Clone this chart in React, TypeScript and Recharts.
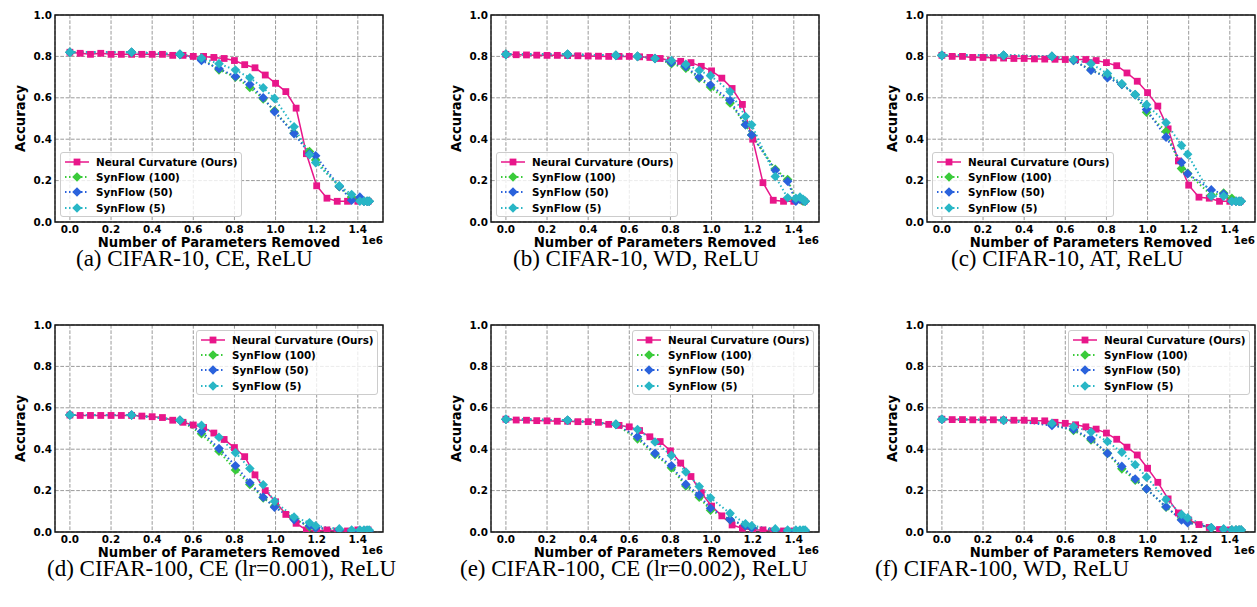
import React from 'react';
import { CartesianGrid, Label, Legend, Line, LineChart, ReferenceArea, XAxis, YAxis } from 'recharts';

// x positions, in units of 1e6 parameters removed
const ncX = [0, 0.05, 0.1, 0.15, 0.2, 0.25, 0.3, 0.35, 0.4, 0.45, 0.5, 0.55, 0.6, 0.65, 0.7, 0.75, 0.8, 0.85, 0.9, 0.95, 1.0, 1.05, 1.1, 1.15, 1.2, 1.25, 1.3, 1.35, 1.4, 1.45];
const sfX = [0, 0.3, 0.535, 0.64, 0.725, 0.805, 0.875, 0.94, 0.995, 1.09, 1.165, 1.195, 1.31, 1.37, 1.41, 1.43, 1.445, 1.455];

// (a) CIFAR-10, CE
const ncA = [0.82, 0.815, 0.81, 0.815, 0.81, 0.81, 0.81, 0.81, 0.81, 0.81, 0.805, 0.805, 0.8, 0.8, 0.795, 0.79, 0.78, 0.76, 0.745, 0.71, 0.67, 0.63, 0.55, 0.33, 0.175, 0.115, 0.1, 0.1, 0.1, 0.1];
const s100A = [0.82, 0.82, 0.81, 0.79, 0.735, 0.7, 0.65, 0.595, 0.537, 0.43, 0.34, 0.3, 0.17, 0.12, 0.11, 0.1, 0.1, 0.1];
const s50A = [0.82, 0.82, 0.81, 0.78, 0.74, 0.703, 0.664, 0.6, 0.533, 0.427, 0.33, 0.32, 0.172, 0.105, 0.12, 0.1, 0.1, 0.1];
const s5A = [0.82, 0.82, 0.81, 0.792, 0.765, 0.734, 0.697, 0.648, 0.597, 0.46, 0.325, 0.287, 0.175, 0.133, 0.1, 0.1, 0.1, 0.1];

// (b) CIFAR-10, WD
const ncB = [0.81, 0.808, 0.807, 0.806, 0.805, 0.805, 0.804, 0.803, 0.802, 0.801, 0.8, 0.8, 0.8, 0.798, 0.795, 0.79, 0.78, 0.776, 0.77, 0.752, 0.73, 0.695, 0.645, 0.568, 0.4, 0.19, 0.105, 0.1, 0.1, 0.1];
const s100B = [0.81, 0.81, 0.805, 0.8, 0.79, 0.765, 0.743, 0.695, 0.652, 0.575, 0.47, 0.42, 0.255, 0.205, 0.11, 0.11, 0.1, 0.1];
const s50B = [0.81, 0.81, 0.805, 0.8, 0.79, 0.77, 0.75, 0.7, 0.662, 0.587, 0.47, 0.42, 0.25, 0.197, 0.1, 0.11, 0.105, 0.1];
const s5B = [0.81, 0.81, 0.805, 0.8, 0.79, 0.78, 0.762, 0.732, 0.707, 0.63, 0.51, 0.47, 0.22, 0.117, 0.115, 0.12, 0.11, 0.1];

// (c) CIFAR-10, AT
const ncC = [0.805, 0.8, 0.8, 0.795, 0.795, 0.793, 0.792, 0.79, 0.79, 0.788, 0.787, 0.786, 0.785, 0.785, 0.785, 0.78, 0.77, 0.755, 0.72, 0.68, 0.625, 0.56, 0.45, 0.295, 0.178, 0.12, 0.115, 0.1, 0.1, 0.1];
const s100C = [0.805, 0.805, 0.8, 0.78, 0.735, 0.7, 0.665, 0.615, 0.53, 0.437, 0.258, 0.235, 0.13, 0.14, 0.115, 0.1, 0.1, 0.1];
const s50C = [0.805, 0.805, 0.8, 0.78, 0.733, 0.697, 0.665, 0.615, 0.543, 0.41, 0.288, 0.233, 0.155, 0.135, 0.1, 0.1, 0.1, 0.1];
const s5C = [0.805, 0.805, 0.8, 0.785, 0.765, 0.717, 0.668, 0.616, 0.567, 0.48, 0.37, 0.327, 0.125, 0.125, 0.1, 0.1, 0.1, 0.1];

// (d) CIFAR-100, CE (lr=0.001)
const ncD = [0.565, 0.563, 0.563, 0.563, 0.563, 0.563, 0.563, 0.56, 0.557, 0.553, 0.54, 0.53, 0.517, 0.505, 0.478, 0.447, 0.408, 0.364, 0.276, 0.2, 0.146, 0.085, 0.042, 0.01, 0.005, 0.01, 0.005, 0.005, 0.01, 0.01];
const s100D = [0.565, 0.565, 0.54, 0.475, 0.39, 0.3, 0.23, 0.165, 0.125, 0.065, 0.025, 0.02, 0.01, 0.005, 0.005, 0.005, 0.005, 0.005];
const s50D = [0.565, 0.565, 0.54, 0.485, 0.403, 0.32, 0.238, 0.168, 0.12, 0.06, 0.03, 0.02, 0.01, 0.005, 0.005, 0.005, 0.005, 0.005];
const s5D = [0.565, 0.565, 0.54, 0.515, 0.458, 0.383, 0.307, 0.228, 0.148, 0.072, 0.045, 0.03, 0.015, 0.01, 0.01, 0.01, 0.01, 0.01];

// (e) CIFAR-100, CE (lr=0.002)
const ncE = [0.545, 0.541, 0.54, 0.538, 0.537, 0.535, 0.535, 0.533, 0.533, 0.53, 0.52, 0.515, 0.508, 0.49, 0.46, 0.437, 0.392, 0.333, 0.268, 0.19, 0.125, 0.078, 0.034, 0.018, 0.01, 0.01, 0.005, 0.005, 0.005, 0.005];
const s100E = [0.545, 0.54, 0.52, 0.45, 0.375, 0.31, 0.222, 0.168, 0.105, 0.06, 0.03, 0.02, 0.01, 0.005, 0.005, 0.005, 0.005, 0.005];
const s50E = [0.545, 0.54, 0.52, 0.46, 0.38, 0.32, 0.23, 0.178, 0.115, 0.06, 0.03, 0.02, 0.01, 0.005, 0.005, 0.005, 0.005, 0.005];
const s5E = [0.545, 0.54, 0.52, 0.495, 0.435, 0.37, 0.29, 0.22, 0.165, 0.09, 0.04, 0.03, 0.015, 0.01, 0.01, 0.01, 0.01, 0.01];

// (f) CIFAR-100, WD
const ncF = [0.545, 0.543, 0.543, 0.542, 0.542, 0.542, 0.541, 0.54, 0.54, 0.538, 0.537, 0.53, 0.525, 0.518, 0.508, 0.497, 0.478, 0.448, 0.41, 0.372, 0.308, 0.24, 0.16, 0.092, 0.058, 0.036, 0.022, 0.012, 0.01, 0.005];
const s100F = [0.545, 0.54, 0.52, 0.49, 0.445, 0.38, 0.305, 0.25, 0.208, 0.12, 0.062, 0.048, 0.02, 0.012, 0.01, 0.01, 0.01, 0.01];
const s50F = [0.545, 0.54, 0.515, 0.495, 0.45, 0.38, 0.317, 0.256, 0.208, 0.122, 0.058, 0.045, 0.02, 0.012, 0.01, 0.01, 0.01, 0.01];
const s5F = [0.545, 0.54, 0.525, 0.51, 0.483, 0.437, 0.385, 0.325, 0.265, 0.157, 0.085, 0.068, 0.02, 0.015, 0.01, 0.01, 0.01, 0.01];

const xTicks = [0, 0.2, 0.4, 0.6, 0.8, 1.0, 1.2, 1.4];
const yTicks = [0, 0.2, 0.4, 0.6, 0.8, 1.0];

const FONT = '"DejaVu Sans", sans-serif';
const NC_COLOR = '#e8168a';
const S100_COLOR = '#3acb3a';
const S50_COLOR = '#2a62dc';
const S5_COLOR = '#28b6c6';

const seriesInfo = [
  { name: 'Neural Curvature (Ours)', color: NC_COLOR, square: true },
  { name: 'SynFlow (100)', color: S100_COLOR, square: false },
  { name: 'SynFlow (50)', color: S50_COLOR, square: false },
  { name: 'SynFlow (5)', color: S5_COLOR, square: false },
];

const PW = 328; // plot width
const PH = 207; // plot height
const ML = 55; // y axis width
const MT = 15;

const toRows = (xs: number[], ys: number[]) => xs.map((x, i) => ({ x, y: ys[i] }));

const squareDot = (props: any) => {
  const { cx, cy, key } = props;
  if (cx == null || cy == null) return null;
  return <rect key={key} x={cx - 3.4} y={cy - 3.4} width={6.8} height={6.8} fill={NC_COLOR} />;
};

const diamondDot = (color: string) => (props: any) => {
  const { cx, cy, key } = props;
  if (cx == null || cy == null) return null;
  const r = 4.8;
  return (
    <polygon
      key={key}
      points={`${cx},${cy - r} ${cx + r},${cy} ${cx},${cy + r} ${cx - r},${cy}`}
      fill={color}
    />
  );
};

const LegendBox = () => (
  <div
    style={{
      boxSizing: 'border-box',
      width: 182,
      height: 65,
      background: 'rgba(255,255,255,0.8)',
      border: '1px solid #cccccc',
      borderRadius: 3,
      padding: '1px 0 0 4px',
      fontFamily: FONT,
      fontWeight: 'bold',
      fontSize: 10.4,
      color: '#000',
    }}
  >
    {seriesInfo.map((s) => (
      <div key={s.name} style={{ display: 'flex', alignItems: 'center', height: 15.4 }}>
        <svg width={24} height={12} style={{ marginRight: 7 }}>
          <line
            x1={0}
            y1={6}
            x2={24}
            y2={6}
            stroke={s.color}
            strokeWidth={s.square ? 1.5 : 2}
            strokeDasharray={s.square ? undefined : '1.5 2.5'}
          />
          {s.square ? (
            <rect x={8.6} y={2.6} width={6.8} height={6.8} fill={s.color} />
          ) : (
            <polygon points="12,1.2 16.8,6 12,10.8 7.2,6" fill={s.color} />
          )}
        </svg>
        <span style={{ whiteSpace: 'nowrap' }}>{s.name}</span>
      </div>
    ))}
  </div>
);

type PanelProps = {
  plotLeft: number;
  plotTop: number;
  nc: number[];
  s100: number[];
  s50: number[];
  s5: number[];
  legendTop: boolean;
};

const Panel = ({ plotLeft, plotTop, nc, s100, s50, s5, legendTop }: PanelProps) => {
  const legendStyle = legendTop
    ? { left: ML + PW - 5 - 182, top: MT + 5, width: 182, height: 65 }
    : { left: ML + 5, top: MT + PH - 5 - 65, width: 182, height: 65 };
  return (
    <div style={{ position: 'absolute', left: plotLeft - ML, top: plotTop - MT }}>
      <LineChart width={ML + PW + 2} height={MT + PH + 45} margin={{ top: MT, right: 2, left: 0, bottom: 15 }}>
        <CartesianGrid stroke="#9a9a9a" strokeDasharray="3.7 1.6" strokeWidth={1} />
        <XAxis
          dataKey="x"
          type="number"
          domain={[-0.0725, 1.5225]}
          allowDataOverflow
          ticks={xTicks}
          tickFormatter={(v: number) => v.toFixed(1)}
          tickLine={false}
          tickSize={0}
          tickMargin={4}
          axisLine={false}
          height={30}
          tick={{ fill: '#000', fontSize: 10.4, fontWeight: 'bold', fontFamily: FONT }}
        >
          <Label
            value="Number of Parameters Removed"
            position="center"
            dy={5}
            style={{ fill: '#000', fontSize: 13.2, fontWeight: 'bold', fontFamily: FONT }}
          />
          <Label
            value="1e6"
            position="insideRight"
            offset={0}
            dy={3}
            style={{ fill: '#000', fontSize: 10.4, fontWeight: 'bold', fontFamily: FONT }}
          />
        </XAxis>
        <YAxis
          type="number"
          domain={[0, 1]}
          allowDataOverflow
          ticks={yTicks}
          tickFormatter={(v: number) => v.toFixed(1)}
          tickLine={false}
          tickSize={0}
          tickMargin={3}
          axisLine={false}
          width={ML}
          tick={{ fill: '#000', fontSize: 10.4, fontWeight: 'bold', fontFamily: FONT }}
        >
          <Label
            value="Accuracy"
            angle={-90}
            position="center"
            dx={-7.5}
            style={{ fill: '#000', fontSize: 13.2, fontWeight: 'bold', fontFamily: FONT, textAnchor: 'middle' }}
          />
        </YAxis>
        <ReferenceArea
          x1={-0.0725}
          x2={1.5225}
          y1={0}
          y2={1}
          fill="none"
          fillOpacity={0}
          stroke="#111"
          strokeWidth={1.4}
          ifOverflow="visible"
        />
        <Line
          data={toRows(ncX, nc)}
          dataKey="y"
          name="Neural Curvature (Ours)"
          type="linear"
          stroke={NC_COLOR}
          strokeWidth={1.5}
          dot={squareDot}
          activeDot={false}
          isAnimationActive={false}
        />
        <Line
          data={toRows(sfX, s100)}
          dataKey="y"
          name="SynFlow (100)"
          type="linear"
          stroke={S100_COLOR}
          strokeWidth={2}
          strokeDasharray="1.5 2.5"
          dot={diamondDot(S100_COLOR)}
          activeDot={false}
          isAnimationActive={false}
        />
        <Line
          data={toRows(sfX, s50)}
          dataKey="y"
          name="SynFlow (50)"
          type="linear"
          stroke={S50_COLOR}
          strokeWidth={2}
          strokeDasharray="1.5 2.5"
          dot={diamondDot(S50_COLOR)}
          activeDot={false}
          isAnimationActive={false}
        />
        <Line
          data={toRows(sfX, s5)}
          dataKey="y"
          name="SynFlow (5)"
          type="linear"
          stroke={S5_COLOR}
          strokeWidth={2}
          strokeDasharray="1.5 2.5"
          dot={diamondDot(S5_COLOR)}
          activeDot={false}
          isAnimationActive={false}
        />
        <Legend
          layout="vertical"
          align="center"
          verticalAlign="middle"
          content={() => <LegendBox />}
          wrapperStyle={legendStyle}
        />
      </LineChart>
    </div>
  );
};

const captionStyle: React.CSSProperties = {
  position: 'absolute',
  fontFamily: '"Liberation Serif", "Times New Roman", serif',
  fontSize: 23,
  lineHeight: '20px',
  whiteSpace: 'nowrap',
  color: '#000',
};

export default function App() {
  return (
    <div
      style={{
        position: 'absolute',
        left: 0,
        top: 0,
        width: 1257,
        height: 607,
        overflow: 'hidden',
        background: '#fff',
      }}
    >
      <Panel plotLeft={55} plotTop={15} nc={ncA} s100={s100A} s50={s50A} s5={s5A} legendTop={false} />
      <Panel plotLeft={491} plotTop={15} nc={ncB} s100={s100B} s50={s50B} s5={s5B} legendTop={false} />
      <Panel plotLeft={927} plotTop={15} nc={ncC} s100={s100C} s50={s50C} s5={s5C} legendTop={false} />
      <Panel plotLeft={55} plotTop={325} nc={ncD} s100={s100D} s50={s50D} s5={s5D} legendTop={true} />
      <Panel plotLeft={491} plotTop={325} nc={ncE} s100={s100E} s50={s50E} s5={s5E} legendTop={true} />
      <Panel plotLeft={927} plotTop={325} nc={ncF} s100={s100F} s50={s50F} s5={s5F} legendTop={true} />

      <div style={{ ...captionStyle, left: 76, top: 249 }}>(a) CIFAR-10, CE, ReLU</div>
      <div style={{ ...captionStyle, left: 513, top: 249 }}>(b) CIFAR-10, WD, ReLU</div>
      <div style={{ ...captionStyle, left: 951, top: 249 }}>(c) CIFAR-10, AT, ReLU</div>
      <div style={{ ...captionStyle, left: 47, top: 559 }}>(d) CIFAR-100, CE (lr=0.001), ReLU</div>
      <div style={{ ...captionStyle, left: 460, top: 559 }}>(e) CIFAR-100, CE (lr=0.002), ReLU</div>
      <div style={{ ...captionStyle, left: 875, top: 559 }}>(f) CIFAR-100, WD, ReLU</div>
    </div>
  );
}
